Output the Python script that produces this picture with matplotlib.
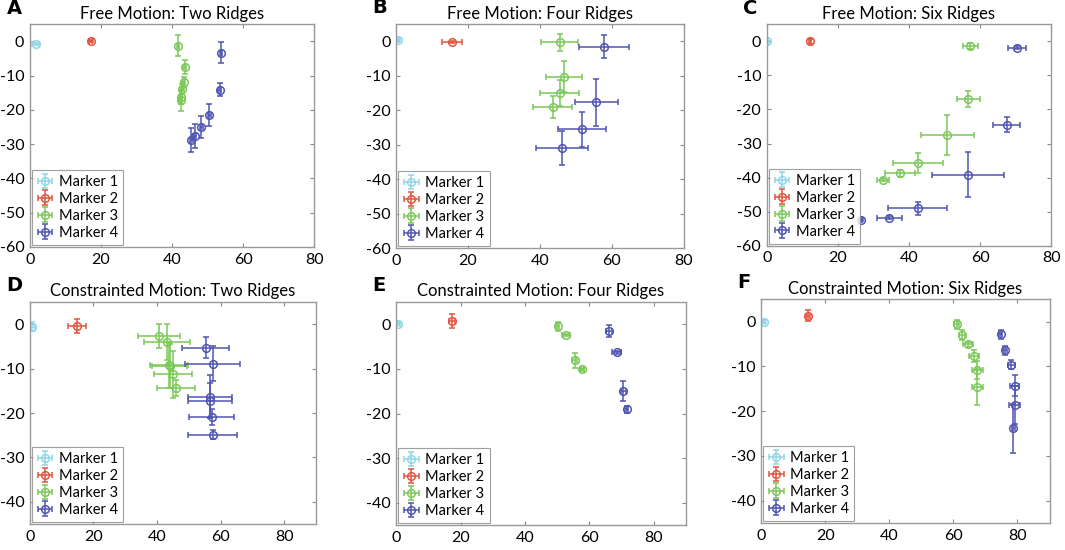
import matplotlib
matplotlib.use("Agg")
import matplotlib.pyplot as plt
import numpy as np

plt.rcParams['font.family'] = ['Lato', 'DejaVu Sans']
plt.rcParams['axes.unicode_minus'] = False

titles = ["Free Motion: Two Ridges", "Free Motion: Four Ridges", "Free Motion: Six Ridges",
          "Constrainted Motion: Two Ridges", "Constrainted Motion: Four Ridges", "Constrainted Motion: Six Ridges"]
letters = ["A", "B", "C", "D", "E", "F"]
marker_names = ["Marker 1", "Marker 2", "Marker 3", "Marker 4"]
colors = ["#8fd6e6", "#e2553f", "#7cc859", "#4f55b2"]

# Each panel: for each marker -> (x, y, xerr, yerr)
# Panel A
A_m1 = ([1.7], [-0.8], [1.0], [0.3])
A_m2 = ([17.1], [0.1], [0.5], [0.4])
A_m3 = ([41.7, 43.6, 43.3, 42.9, 42.5, 42.4],
        [-1.25, -7.4, -11.9, -14.0, -16.3, -17.2],
        [0.4, 0.4, 0.4, 0.4, 0.4, 0.4],
        [3.0, 2.0, 1.5, 1.5, 2.0, 3.0])
A_m4 = ([53.8, 53.4, 50.5, 48.2, 46.4, 45.4],
        [-3.3, -14.1, -21.4, -25.0, -27.5, -28.9],
        [0.4, 0.4, 0.4, 0.4, 0.4, 0.4],
        [3.0, 1.8, 3.2, 3.3, 3.5, 3.5])
# Panel B
B_m1 = ([0.5], [0.3], [0.3], [0.3])
B_m2 = ([15.5], [-0.2], [2.8], [0.4])
B_m3 = ([45.5, 46.6, 45.5, 43.5],
        [-0.3, -10.2, -14.9, -19.1],
        [5.2, 5.0, 5.4, 5.5],
        [2.4, 4.5, 3.8, 3.2])
B_m4 = ([57.8, 55.7, 51.7, 46.2],
        [-1.55, -17.7, -25.5, -30.9],
        [6.9, 6.0, 6.8, 7.2],
        [3.3, 6.8, 5.1, 5.0])
# Panel C
C_m1 = ([0.0], [0.0], [0.2], [0.2])
C_m2 = ([12.2], [0.0], [0.3], [0.8])
C_m3 = ([57.2, 56.7, 50.8, 42.5, 37.5, 32.6],
        [-1.4, -16.9, -27.5, -35.7, -38.7, -40.6],
        [2.1, 3.2, 7.5, 7.0, 4.2, 1.7],
        [0.8, 2.3, 5.8, 2.8, 1.0, 0.5])
C_m4 = ([70.4, 67.5, 56.6, 42.5, 34.5, 26.5],
        [-1.9, -24.5, -39.1, -49.0, -51.7, -52.4],
        [2.5, 3.8, 10.0, 8.3, 3.5, 0.3],
        [0.5, 2.2, 6.5, 2.0, 0.5, 0.3])
# Panel D
D_m1 = ([0.8], [-0.6], [0.8], [1.0])
D_m2 = ([14.7], [-0.4], [2.8], [1.6])
D_m3 = ([40.6, 43.1, 43.7, 44.0, 44.9, 45.9],
        [-2.7, -4.0, -9.2, -9.4, -11.3, -14.4],
        [6.6, 7.2, 6.0, 5.5, 6.0, 5.9],
        [2.7, 4.1, 5.2, 5.0, 5.3, 1.8])
D_m4 = ([55.2, 57.4, 56.6, 56.6, 57.1, 57.4],
        [-5.3, -8.9, -16.3, -17.2, -20.8, -24.9],
        [7.4, 8.6, 7.0, 7.0, 7.2, 7.7],
        [2.4, 3.9, 4.9, 4.0, 1.8, 1.0])
# Panel E
E_m1 = ([0.7], [0.1], [0.6], [0.3])
E_m2 = ([17.4], [0.7], [1.0], [1.5])
E_m3 = ([50.2, 52.7, 55.5, 57.6],
        [-0.4, -2.4, -8.1, -10.1],
        [0.5, 1.3, 0.8, 0.6],
        [1.0, 0.3, 1.6, 0.4])
E_m4 = ([66.1, 68.5, 70.5, 71.6],
        [-1.5, -6.3, -14.9, -19.0],
        [1.0, 1.3, 0.8, 0.5],
        [1.3, 0.4, 2.3, 0.8])
# Panel F
F_m1 = ([0.8], [0.0], [0.6], [0.3])
F_m2 = ([14.6], [1.35], [0.7], [1.3])
F_m3 = ([61.0, 62.7, 64.6, 66.4, 67.5, 67.5],
        [-0.6, -3.0, -5.1, -7.7, -10.9, -14.7],
        [0.8, 0.8, 1.5, 1.5, 1.8, 1.8],
        [1.0, 1.2, 0.5, 1.3, 2.0, 4.0])
F_m4 = ([74.8, 76.1, 78.1, 79.1, 79.1, 78.7],
        [-2.8, -6.4, -9.6, -14.3, -18.6, -23.8],
        [0.5, 0.5, 1.0, 1.5, 1.7, 0.5],
        [1.0, 1.0, 1.0, 2.3, 4.2, 5.5])

panels = [[A_m1, A_m2, A_m3, A_m4], [B_m1, B_m2, B_m3, B_m4], [C_m1, C_m2, C_m3, C_m4],
          [D_m1, D_m2, D_m3, D_m4], [E_m1, E_m2, E_m3, E_m4], [F_m1, F_m2, F_m3, F_m4]]

xlims = [(0, 80)] * 3 + [(0, 90)] * 3
ylims = [(-60, 5)] * 3 + [(-45, 5)] * 3
yticks_top = [0, -10, -20, -30, -40, -50, -60]
yticks_bot = [0, -10, -20, -30, -40]
xticks = [0, 20, 40, 60, 80]

rects = [
    (0.028, 0.551, 0.267, 0.405),
    (0.372, 0.549, 0.270, 0.407),
    (0.720, 0.553, 0.267, 0.403),
    (0.028, 0.047, 0.269, 0.404),
    (0.372, 0.045, 0.272, 0.406),
    (0.7145, 0.049, 0.271, 0.407),
]

fig = plt.figure(figsize=(10.65, 5.5), dpi=100)
for i, data in enumerate(panels):
    ax = fig.add_axes(rects[i])
    for j, (x, y, xe, ye) in enumerate(data):
        ax.errorbar(x, y, xerr=xe, yerr=ye, fmt='o', color=colors[j], mfc='none',
                    mec=colors[j], ms=5.5, mew=1.1, elinewidth=1.1, capsize=2.5, capthick=1.1,
                    label=marker_names[j])
    ax.set_xlim(*xlims[i])
    ax.set_ylim(*ylims[i])
    ax.set_xticks(xticks)
    ax.set_yticks(yticks_top if i < 3 else yticks_bot)
    ax.tick_params(direction='in', top=True, right=True, labelsize=11.5, length=3,
                   color='#888888', pad=4)
    for s in ax.spines.values():
        s.set_color('#999999')
        s.set_linewidth(1.0)
    ax.set_title(titles[i], fontsize=12, pad=4)
    ax.text(-0.082, 1.03, letters[i], transform=ax.transAxes, fontsize=14,
            fontweight='bold', family='DejaVu Sans', va='bottom', ha='left')
    leg = ax.legend(loc='lower left', fontsize=10.5, frameon=True, fancybox=False,
                    borderpad=0.35, labelspacing=0.2, handlelength=1.1, handletextpad=0.4,
                    borderaxespad=0.15)
    leg.get_frame().set_edgecolor('#888888')
    leg.get_frame().set_linewidth(0.8)

fig.savefig("out.png", dpi=100)
